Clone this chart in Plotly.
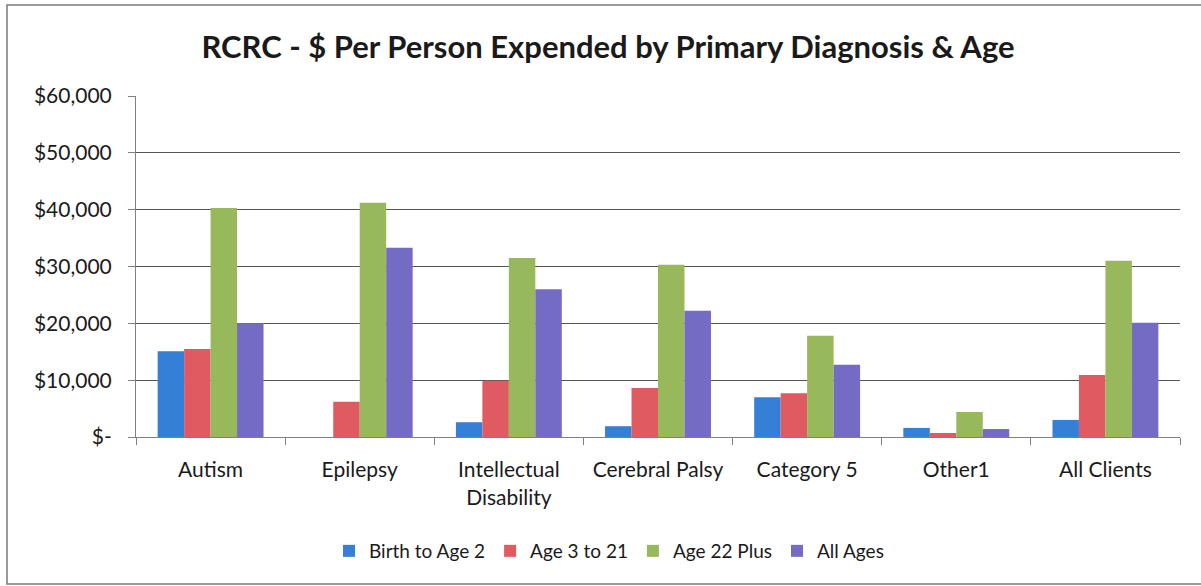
import plotly.graph_objects as go

categories = ["Autism", "Epilepsy", "Intellectual<br>Disability", "Cerebral Palsy",
              "Category 5", "Other1", "All Clients"]
birth_to_2 = [15100, 0, 2600, 1900, 7000, 1600, 3000]
age_3_21 = [15500, 6200, 9900, 8600, 7700, 700, 10900]
age_22_plus = [40300, 41200, 31500, 30300, 17800, 4400, 31000]
all_ages = [20000, 33300, 26000, 22200, 12700, 1400, 20100]

series_names = ["Birth to Age 2", "Age 3 to 21", "Age 22 Plus", "All Ages"]
series_values = [birth_to_2, age_3_21, age_22_plus, all_ages]
colors = ["#3580d6", "#e05a62", "#97b95b", "#746bc4"]

tick_vals = [0, 10000, 20000, 30000, 40000, 50000, 60000]
tick_text = ["$-", "$10,000", "$20,000", "$30,000", "$40,000", "$50,000", "$60,000"]

FONT = "Lato, 'Open Sans', sans-serif"

fig = go.Figure()
for name, vals, c in zip(series_names, series_values, colors):
    fig.add_trace(go.Bar(name=name, x=categories, y=vals,
                         marker=dict(color=c, line=dict(width=0))))

# plot area: x 136..1180, y 96..437
L, R, T, B = 136, 1180, 96, 437
W, H = R - L, B - T

def px_x(p):
    return (p - L) / W

def px_y(p):
    return (B - p) / H

fig.add_shape(type="rect", xref="paper", yref="paper",
              x0=px_x(7), x1=px_x(1203), y0=px_y(584), y1=px_y(5),
              line=dict(color="#7a7a7a", width=1.5), fillcolor="rgba(0,0,0,0)", layer="below")

fig.update_layout(
    width=1201, height=586,
    margin=dict(l=L, r=1201 - R, t=T, b=586 - B),
    paper_bgcolor="white", plot_bgcolor="white",
    barmode="group", bargap=0.29, bargroupgap=0,
    font=dict(family=FONT, size=18, color="#1a1a1a"),
    title=dict(text="<b>RCRC - $ Per Person Expended by Primary Diagnosis & Age</b>",
               x=px_x(608), xref="paper", xanchor="center",
               y=1 - 47 / 586, yanchor="middle",
               font=dict(family=FONT, size=31, color="#1a1a1a")),
    legend=dict(orientation="h", x=px_x(609), xanchor="center",
                y=px_y(551), yanchor="middle",
                font=dict(family=FONT, size=19, color="#1a1a1a"),
                itemsizing="constant", traceorder="normal", itemwidth=30),
    showlegend=True,
)
fig.update_xaxes(showline=True, linecolor="#808080", linewidth=1,
                 ticks="outside", tickson="boundaries", ticklen=7, tickcolor="#808080",
                 tickfont=dict(family=FONT, size=21, color="#1a1a1a"), showgrid=False,
                 ticklabelstandoff=14)
fig.update_yaxes(range=[0, 60000], tickvals=tick_vals, ticktext=tick_text,
                 showline=True, linecolor="#808080", linewidth=1,
                 ticks="outside", ticklen=7, tickcolor="#808080",
                 showgrid=True, gridcolor="#555555", gridwidth=1,
                 tickfont=dict(family=FONT, size=21, color="#1a1a1a"),
                 ticklabelstandoff=12, zeroline=False)

fig.write_html("out.html", config={"displayModeBar": False},
               post_script="document.body.style.margin='0';")
